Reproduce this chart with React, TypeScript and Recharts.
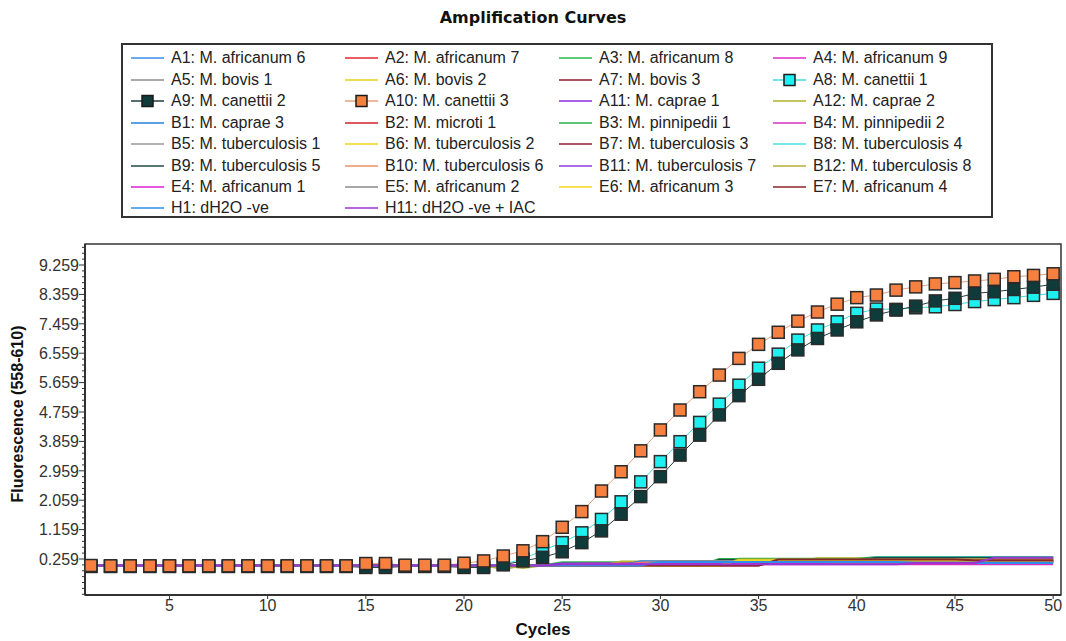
import React from 'react';
import {LineChart, Line, XAxis, YAxis, ReferenceArea} from 'recharts';

// cycles 1..50
const cycles = Array.from({length: 50}, (_, i) => i + 1);

// A8 / A9 / A10 (the three amplifying wells)
const a8Canettii1 = [
  0.04, 0.04, 0.04, 0.04, 0.04, 0.04, 0.04, 0.04, 0.04, 0.04,
  0.04, 0.04, 0.04, 0.04, 0.04, 0.04, 0.04, 0.04, 0.04, 0.04,
  0.04, 0.1, 0.26, 0.52, 0.76, 1.06, 1.47, 2.01, 2.62, 3.24,
  3.85, 4.44, 5.0, 5.58, 6.1, 6.53, 6.96, 7.27, 7.52, 7.78,
  7.91, 7.9, 7.95, 7.98, 8.05, 8.14, 8.2, 8.26, 8.33, 8.39,
];
const a9Canettii2 = [
  0.03, 0.03, 0.03, 0.03, 0.03, 0.03, 0.03, 0.03, 0.03, 0.03,
  0.03, 0.03, 0.03, 0.03, 0.0, 0.0, 0.03, 0.03, 0.03, 0.0,
  0.0, 0.08, 0.2, 0.31, 0.48, 0.76, 1.12, 1.63, 2.17, 2.78,
  3.44, 4.05, 4.67, 5.26, 5.76, 6.25, 6.66, 7.01, 7.27, 7.52,
  7.73, 7.88, 8.0, 8.16, 8.24, 8.39, 8.44, 8.51, 8.58, 8.67,
];
const a10Canettii3 = [
  0.06, 0.05, 0.05, 0.05, 0.05, 0.05, 0.05, 0.05, 0.05, 0.05,
  0.05, 0.05, 0.05, 0.05, 0.12, 0.12, 0.07, 0.07, 0.07, 0.13,
  0.2, 0.35, 0.51, 0.79, 1.23, 1.71, 2.34, 2.93, 3.57, 4.21,
  4.82, 5.38, 5.89, 6.4, 6.83, 7.2, 7.54, 7.82, 8.06, 8.26,
  8.34, 8.49, 8.59, 8.68, 8.72, 8.77, 8.82, 8.9, 8.94, 8.99,
];

// flat wells, as [value, number of cycles] runs
const runsA1: [number, number][] = [[0.06, 25], [0.14, 10], [0.2, 15]];
const runsA2: [number, number][] = [[0.06, 26], [0.12, 12], [0.18, 12]];
const runsA3: [number, number][] = [[0.06, 24], [0.16, 9], [0.27, 8], [0.3, 9]];
const runsA4: [number, number][] = [[0.06, 27], [0.11, 13], [0.14, 10]];
const runsA5: [number, number][] = [[0.06, 28], [0.17, 12], [0.22, 10]];
const runsA6: [number, number][] = [[0.06, 30], [0.2, 10], [0.25, 10]];
const runsA7: [number, number][] = [[0.06, 28], [0.15, 8], [0.22, 6], [0.24, 8]];
const runsA11: [number, number][] = [[0.06, 24], [0.12, 20], [0.18, 6]];
const runsA12: [number, number][] = [[0.06, 21], [-0.05, 1], [0.06, 5], [0.18, 10], [0.28, 13]];
const runsB1: [number, number][] = [[0.06, 28], [0.19, 16], [0.24, 6]];
const runsB2: [number, number][] = [[0.06, 30], [0.16, 10], [0.21, 10]];
const runsB3: [number, number][] = [[0.06, 32], [0.26, 8], [0.32, 10]];
const runsB4: [number, number][] = [[0.06, 26], [0.1, 24]];
const runsB5: [number, number][] = [[0.06, 29], [0.18, 21]];
const runsB6: [number, number][] = [[0.06, 33], [0.2, 17]];
const runsB7: [number, number][] = [[0.06, 35], [0.22, 10], [0.2, 5]];
const runsB8: [number, number][] = [[0.06, 30], [0.2, 10], [0.31, 10]];
const runsB9: [number, number][] = [[0.06, 32], [0.23, 8], [0.3, 10]];
const runsB10: [number, number][] = [[0.06, 28], [0.15, 16], [0.24, 6]];
const runsB11: [number, number][] = [[0.06, 30], [0.2, 12], [0.15, 4], [0.2, 4]];
const runsB12: [number, number][] = [[0.06, 22], [-0.02, 1], [0.06, 10], [0.24, 17]];
const runsE4: [number, number][] = [[0.06, 25], [0.11, 13], [0.17, 12]];
const runsE5: [number, number][] = [[0.06, 29], [0.2, 21]];
const runsE6: [number, number][] = [[0.06, 33], [0.22, 17]];
const runsE7: [number, number][] = [[0.06, 35], [0.24, 10], [0.22, 5]];
const runsH1: [number, number][] = [[0.06, 29], [0.17, 13], [0.14, 8]];
const runsH11: [number, number][] = [[0.06, 24], [0.1, 18], [0.14, 4], [0.3, 4]];

const xTicks = [5, 10, 15, 20, 25, 30, 35, 40, 45, 50];
const yMajorTicks = [0.259, 1.159, 2.059, 2.959, 3.859, 4.759, 5.659, 6.559, 7.459, 8.359, 9.259];

const expand = (runs: [number, number][]) => runs.flatMap(([v, n]) => Array(n).fill(v));

type Series = {key: string; name: string; color: string; values: number[]; marker?: string};

const series: Series[] = [
  {key: 'A1', name: 'A1: M. africanum 6', color: '#3A8EE6', values: expand(runsA1)},
  {key: 'A2', name: 'A2: M. africanum 7', color: '#E0282E', values: expand(runsA2)},
  {key: 'A3', name: 'A3: M. africanum 8', color: '#2DB84A', values: expand(runsA3)},
  {key: 'A4', name: 'A4: M. africanum 9', color: '#E02BC8', values: expand(runsA4)},
  {key: 'A5', name: 'A5: M. bovis 1', color: '#8C8C8C', values: expand(runsA5)},
  {key: 'A6', name: 'A6: M. bovis 2', color: '#E6D21E', values: expand(runsA6)},
  {key: 'A7', name: 'A7: M. bovis 3', color: '#8B1E2A', values: expand(runsA7)},
  {key: 'A8', name: 'A8: M. canettii 1', color: '#40DCDC', values: a8Canettii1, marker: '#1EF0F0'},
  {key: 'A9', name: 'A9: M. canettii 2', color: '#1F3F3F', values: a9Canettii2, marker: '#0F3B3B'},
  {key: 'A10', name: 'A10: M. canettii 3', color: '#E8A07E', values: a10Canettii3, marker: '#F5803F'},
  {key: 'A11', name: 'A11: M. caprae 1', color: '#8A2BE2', values: expand(runsA11)},
  {key: 'A12', name: 'A12: M. caprae 2', color: '#B5B02A', values: expand(runsA12)},
  {key: 'B1', name: 'B1: M. caprae 3', color: '#2A7FE0', values: expand(runsB1)},
  {key: 'B2', name: 'B2: M. microti 1', color: '#D0202A', values: expand(runsB2)},
  {key: 'B3', name: 'B3: M. pinnipedii 1', color: '#2AAE48', values: expand(runsB3)},
  {key: 'B4', name: 'B4: M. pinnipedii 2', color: '#D930C0', values: expand(runsB4)},
  {key: 'B5', name: 'B5: M. tuberculosis 1', color: '#999999', values: expand(runsB5)},
  {key: 'B6', name: 'B6: M. tuberculosis 2', color: '#EDD51A', values: expand(runsB6)},
  {key: 'B7', name: 'B7: M. tuberculosis 3', color: '#8E2030', values: expand(runsB7)},
  {key: 'B8', name: 'B8: M. tuberculosis 4', color: '#48E0E6', values: expand(runsB8)},
  {key: 'B9', name: 'B9: M. tuberculosis 5', color: '#1F4A46', values: expand(runsB9)},
  {key: 'B10', name: 'B10: M. tuberculosis 6', color: '#F0906A', values: expand(runsB10)},
  {key: 'B11', name: 'B11: M. tuberculosis 7', color: '#8A3BDE', values: expand(runsB11)},
  {key: 'B12', name: 'B12: M. tuberculosis 8', color: '#B2AE3A', values: expand(runsB12)},
  {key: 'E4', name: 'E4: M. africanum 1', color: '#E01FD8', values: expand(runsE4)},
  {key: 'E5', name: 'E5: M. africanum 2', color: '#8A8A8A', values: expand(runsE5)},
  {key: 'E6', name: 'E6: M. africanum 3', color: '#F0D81E', values: expand(runsE6)},
  {key: 'E7', name: 'E7: M. africanum 4', color: '#8B2428', values: expand(runsE7)},
  {key: 'H1', name: 'H1: dH2O -ve', color: '#2E8FEA', values: expand(runsH1)},
  {key: 'H11', name: 'H11: dH2O -ve + IAC', color: '#9A35D0', values: expand(runsH11)},
];

const chartData = cycles.map((c, i) => {
  const row: Record<string, number> = {cycle: c};
  series.forEach(s => (row[s.key] = s.values[i]));
  return row;
});

// minor ticks every 0.18 between the labelled ones
const yAllTicks: number[] = [];
for (let k = -6; k <= 53; k++) yAllTicks.push(+(0.259 + 0.18 * k).toFixed(3));

const FONT = '"Liberation Sans", Arial, sans-serif';

function YTick({x, y, payload}: any) {
  const v = payload.value as number;
  const major = yMajorTicks.some(t => Math.abs(t - v) < 1e-6);
  return (
    <g>
      <line x1={x - (major ? 6 : 3)} x2={x} y1={y} y2={y} stroke="#333" strokeWidth={1} />
      {major && (
        <text x={x - 6} y={y} dy="0.36em" textAnchor="end" fontSize={16} fill="#333" fontFamily={FONT}>
          {v.toFixed(3)}
        </text>
      )}
    </g>
  );
}

const squareDot = (fill: string) => (props: any) => {
  const {cx, cy, index} = props;
  if (cx == null || cy == null) return <g key={index} />;
  return (
    <rect key={index} x={cx - 6} y={cy - 6} width={12} height={12} fill={fill} stroke="#2a2a2a" strokeWidth={1.5} />
  );
};

function LegendItem({s, left, top}: {s: Series; left: number; top: number}) {
  return (
    <div style={{position: 'absolute', left, top: top - 10, height: 20, display: 'flex', alignItems: 'center'}}>
      <svg width={33} height={14} style={{display: 'block'}}>
        <line x1={0} x2={33} y1={7} y2={7} stroke={s.color} strokeWidth={1.5} />
        {s.marker && <rect x={11} y={1.5} width={11} height={11} fill={s.marker} stroke="#1a1a1a" strokeWidth={1.5} />}
      </svg>
      <span style={{marginLeft: 7, fontSize: 16, color: '#222', whiteSpace: 'nowrap'}}>{s.name}</span>
    </div>
  );
}

export default function App() {
  const colX = [131, 345, 559, 773];
  return (
    <div style={{position: 'absolute', left: 0, top: 0, width: 1066, height: 641, background: '#fff', fontFamily: FONT}}>
      <div
        style={{
          position: 'absolute', left: 0, width: 1066, top: 8, textAlign: 'center',
          fontFamily: '"DejaVu Sans", sans-serif', fontWeight: 'bold', fontSize: 16, color: '#111',
        }}
      >
        Amplification Curves
      </div>

      <div style={{position: 'absolute', left: 121, top: 43, width: 872, height: 175, border: '2px solid #333', boxSizing: 'border-box'}} />
      {series.map((s, i) => (
        <LegendItem key={s.key} s={s} left={colX[i % 4]} top={58.3 + Math.floor(i / 4) * 21.45} />
      ))}

      <div style={{position: 'absolute', left: 0, top: 0}}>
        <LineChart width={1066} height={641} data={chartData} margin={{top: 244, right: 5, bottom: 6, left: 5}}>
          <XAxis
            dataKey="cycle"
            type="number"
            domain={[0.7, 50.4]}
            ticks={xTicks}
            interval={0}
            allowDataOverflow
            height={40}
            tickSize={4}
            tickMargin={1}
            axisLine={{stroke: '#222', strokeWidth: 1.5}}
            tickLine={{stroke: '#333'}}
            tick={{fontSize: 16, fill: '#333', fontFamily: FONT}}
          />
          <YAxis
            type="number"
            domain={[-0.843, 9.902]}
            ticks={yAllTicks}
            interval={0}
            allowDataOverflow
            width={80}
            tickSize={0}
            tickMargin={0}
            tickLine={false}
            axisLine={{stroke: '#222', strokeWidth: 1.5}}
            tick={<YTick />}
          />
          <ReferenceArea x1={0.7} x2={50.4} y1={-0.843} y2={9.902} fill="none" stroke="#333" strokeWidth={1.5} />
          {series.map(s => (
            <Line
              key={s.key}
              dataKey={s.key}
              type="linear"
              stroke={s.color}
              strokeWidth={s.marker ? 1 : 2}
              dot={s.marker ? squareDot(s.marker) : false}
              activeDot={false}
              isAnimationActive={false}
            />
          ))}
        </LineChart>
      </div>

      <div
        style={{
          position: 'absolute', left: 18, top: 414, transform: 'translate(-50%, -50%) rotate(-90deg)',
          whiteSpace: 'nowrap', fontWeight: 'bold', fontSize: 16, color: '#111',
        }}
      >
        Fluorescence (558-610)
      </div>
      <div style={{position: 'absolute', left: 543, top: 630, transform: 'translate(-50%, -50%)', fontWeight: 'bold', fontSize: 17, color: '#111'}}>
        Cycles
      </div>
    </div>
  );
}
